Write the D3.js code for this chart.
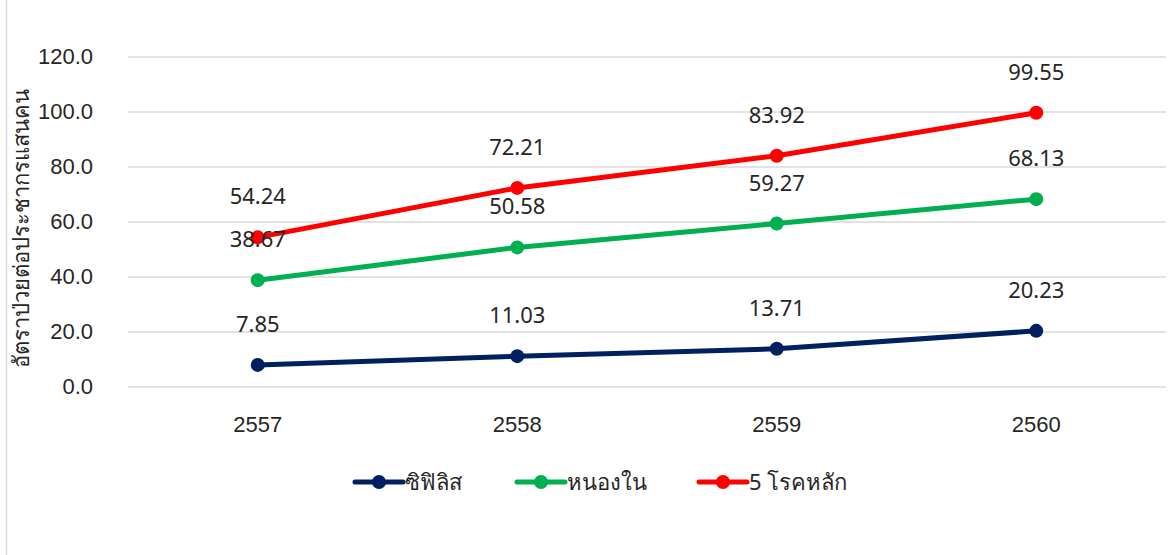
<!DOCTYPE html>
<html>
<head>
<meta charset="utf-8">
<script src="https://cdn.jsdelivr.net/npm/d3@7"></script>
<style>
  body { margin: 0; background: #fff; }
  svg { display: block; font-family: "Noto Sans", "DejaVu Sans", sans-serif; }
  .tick text { fill: #262626; font-size: 22px; }
</style>
</head>
<body>
<svg id="chart" width="1171" height="555"></svg>
<script>
////////// dados
const years = ['2557', '2558', '2559', '2560'];
const seriesNames = ['ซิฟิลิส', 'หนองใน', '5 โรคหลัก'];
const syphilis = [7.85, 11.03, 13.71, 20.23];
const gonorrhea = [38.67, 50.58, 59.27, 68.13];
const fiveMain = [54.24, 72.21, 83.92, 99.55];
const yTicks = [0, 20, 40, 60, 80, 100, 120];
const colors = ['#002060', '#00b050', '#ff0000'];
const yTitle = 'อัตราป่วยต่อประชากรแสนคน';

const series = [syphilis, gonorrhea, fiveMain];

const svg = d3.select('#chart');

// borda esquerda do quadro
svg.append('line')
  .attr('x1', 6.5).attr('x2', 6.5)
  .attr('y1', 0).attr('y2', 555)
  .attr('stroke', '#d9d9d9')
  .attr('stroke-width', 1.5);

const x = d3.scaleBand()
  .domain(years)
  .range([128, 1166]);

const y = d3.scaleLinear()
  .domain([0, 120])
  .range([386.5, 56.5]);

// grade + eixo y
const yAxis = svg.append('g')
  .attr('transform', 'translate(128,0)')
  .call(d3.axisLeft(y)
    .tickValues(yTicks)
    .tickSize(-(1166 - 128))
    .tickPadding(35)
    .tickFormat(d3.format('.1f')));

yAxis.select('.domain').remove();
yAxis.selectAll('.tick line')
  .attr('stroke', '#d9d9d9')
  .attr('stroke-width', 1.5);

// eixo x
const xAxis = svg.append('g')
  .attr('transform', 'translate(0,386.5)')
  .call(d3.axisBottom(x).tickSize(0).tickPadding(30));

xAxis.select('.domain').remove();

// titulo do eixo y
svg.append('text')
  .attr('transform', 'translate(29,228) rotate(-90)')
  .attr('text-anchor', 'middle')
  .attr('fill', '#262626')
  .style('font-size', '22px')
  .text(yTitle);

const line = d3.line()
  .x((d, i) => x(years[i]) + x.bandwidth() / 2)
  .y(d => y(d));

// linhas e pontos
series.forEach((data, s) => {
  const g = svg.append('g');

  g.append('path')
    .datum(data)
    .attr('d', line)
    .attr('fill', 'none')
    .attr('stroke', colors[s])
    .attr('stroke-width', 5)
    .attr('stroke-linecap', 'round');

  g.selectAll('circle')
    .data(data)
    .join('circle')
    .attr('cx', (d, i) => x(years[i]) + x.bandwidth() / 2)
    .attr('cy', d => y(d))
    .attr('r', 7)
    .attr('fill', colors[s]);
});

// rotulos de dados
series.forEach((data, s) => {
  svg.append('g')
    .selectAll('text')
    .data(data)
    .join('text')
    .attr('x', (d, i) => x(years[i]) + x.bandwidth() / 2)
    .attr('y', d => y(d) - 33)
    .attr('text-anchor', 'middle')
    .attr('fill', '#262626')
    .style('font-size', '22px')
    .text(d => d3.format('.2f')(d));
});

// legenda
const legendX = [353, 515, 697];
const legend = svg.append('g');

seriesNames.forEach((name, s) => {
  const lg = legend.append('g')
    .attr('transform', 'translate(' + legendX[s] + ',482)');

  lg.append('line')
    .attr('x1', 2).attr('x2', 50)
    .attr('stroke', colors[s])
    .attr('stroke-width', 5)
    .attr('stroke-linecap', 'round');

  lg.append('circle')
    .attr('cx', 26)
    .attr('r', 7)
    .attr('fill', colors[s]);

  lg.append('text')
    .attr('x', 52)
    .attr('y', 8)
    .attr('fill', '#262626')
    .style('font-size', '22px')
    .text(name);
});
</script>
</body>
</html>
